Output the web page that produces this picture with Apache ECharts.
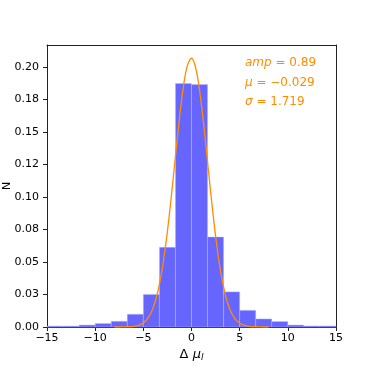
<!DOCTYPE html>
<html>
<head>
<meta charset="utf-8">
<script src="https://cdn.jsdelivr.net/npm/echarts@6/dist/echarts.min.js"></script>
<style>
html,body{margin:0;padding:0;background:#fff;}
#c{width:374px;height:374px;}
</style>
</head>
<body>
<div id="c"></div>
<script>
// Histogram bin edges (Δ μ_l) and normalized heights (N)
const binEdges = [-15, -13.333, -11.667, -10, -8.333, -6.667, -5, -3.333, -1.667, 0, 1.667, 3.333, 5, 6.667, 8.333, 10, 11.667, 13.333, 15];
const binHeights = [0.0007, 0.0007, 0.0015, 0.0027, 0.0044, 0.0098, 0.0250, 0.0613, 0.1872, 0.1865, 0.0692, 0.0270, 0.0128, 0.0062, 0.0042, 0.0015, 0.0008, 0.0008];

// Gaussian fit curve
const fitX = [-8, -7.5, -7, -6.5, -6, -5.5, -5, -4.5, -4, -3.5, -3, -2.5, -2, -1.5, -1, -0.5, 0, 0.5, 1, 1.5, 2, 2.5, 3, 3.5, 4, 4.5, 5, 5.5, 6, 6.5, 7, 7.5, 8];
const fitY = [0.0000, 0.00001, 0.00006, 0.00017, 0.0005, 0.00131, 0.00316, 0.00702, 0.01433, 0.0269, 0.0464, 0.0735, 0.1071, 0.1433, 0.1761, 0.1990, 0.2066, 0.1971, 0.1727, 0.1391, 0.1029, 0.0700, 0.0437, 0.0251, 0.0133, 0.0064, 0.0029, 0.0012, 0.0004, 0.00015, 0.00005, 0.00001, 0.0000];

// Tick values and labels
const xTickValues = [-15, -10, -5, 0, 5, 10, 15];
const yTickValues = [0, 0.025, 0.05, 0.075, 0.1, 0.125, 0.15, 0.175, 0.2];
const yTickLabels = ['0.00', '0.03', '0.05', '0.08', '0.10', '0.12', '0.15', '0.18', '0.20'];

// Axis titles and fit parameters text
const yAxisTitle = 'N';
const fitParams = { amp: '0.89', mu: '\u22120.029', sigma: '1.719' };

const FONT = 'DejaVu Sans';
const ORANGE = '#ff8c00';
const BAR = 'rgb(102,102,255)';

const histData = binHeights.map((h, i) => [binEdges[i], binEdges[i + 1], h]);
const fitData = fitX.map((x, i) => [x, fitY[i]]);

const chart = echarts.init(document.getElementById('c'), null, { renderer: 'canvas' });
const frame = { show: true, onZero: false, lineStyle: { color: '#222', width: 1 } };

chart.setOption({
  animation: false,
  backgroundColor: '#fff',
  grid: { left: 47, right: 38, top: 45, bottom: 47, containLabel: false, outerBoundsMode: 'none' },
  xAxis: [{
    type: 'value', min: -15, max: 15, interval: 5,
    axisLine: frame,
    axisTick: { show: true, length: 4, lineStyle: { color: '#222' }, customValues: xTickValues },
    axisLabel: { fontFamily: FONT, fontSize: 11, color: '#000', margin: 6,
      customValues: xTickValues,
      formatter: v => String(v).replace('-', '\u2212') },
    splitLine: { show: false },
    name: '{n|\u0394 }{i|\u03bc}{s|l}',
    nameLocation: 'middle', nameGap: 20, nameMoveOverlap: false,
    nameTextStyle: { fontFamily: FONT, fontSize: 13, color: '#000',
      rich: {
        n: { fontFamily: FONT, fontSize: 13, color: '#000' },
        i: { fontFamily: FONT, fontSize: 13, fontStyle: 'italic', color: '#000' },
        s: { fontFamily: FONT, fontSize: 9, fontStyle: 'italic', color: '#000', verticalAlign: 'bottom', padding: [6, 0, 0, 0] }
      } }
  }, {
    type: 'value', min: -15, max: 15, position: 'top',
    axisLine: frame, axisTick: { show: false }, axisLabel: { show: false }, splitLine: { show: false }
  }],
  yAxis: [{
    type: 'value', min: 0, max: 0.2168,
    axisLine: frame,
    axisTick: { show: true, length: 4, lineStyle: { color: '#222' }, customValues: yTickValues },
    axisLabel: { fontFamily: FONT, fontSize: 11, color: '#000', margin: 8,
      customValues: yTickValues,
      formatter: v => { const k = yTickValues.findIndex(t => Math.abs(t - v) < 1e-9); return k >= 0 ? yTickLabels[k] : ''; } },
    splitLine: { show: false }
  }, {
    type: 'value', min: 0, max: 0.2168, position: 'right',
    axisLine: frame, axisTick: { show: false }, axisLabel: { show: false }, splitLine: { show: false }
  }],
  series: [{
    type: 'custom',
    xAxisIndex: 0, yAxisIndex: 0,
    data: histData,
    encode: { x: [0, 1], y: 2 },
    renderItem: (params, api) => {
      const p0 = api.coord([api.value(0), api.value(2)]);
      const p1 = api.coord([api.value(1), 0]);
      return {
        type: 'rect',
        shape: { x: p0[0], y: p0[1], width: p1[0] - p0[0], height: p1[1] - p0[1] },
        style: { fill: BAR, stroke: 'rgba(190,190,255,0.8)', lineWidth: 0.5 }
      };
    },
    z: 2
  }, {
    type: 'line',
    xAxisIndex: 0, yAxisIndex: 0,
    data: fitData,
    smooth: 0.35,
    showSymbol: false,
    lineStyle: { color: ORANGE, width: 1.3 },
    z: 3
  }],
  graphic: [{
    type: 'text', x: 7, y: 186, rotation: Math.PI / 2,
    style: { text: yAxisTitle, fontFamily: FONT, fontSize: 11, fill: '#000', align: 'center', verticalAlign: 'middle' }
  }, {
    type: 'group', left: 245, top: 57,
    children: [
      { type: 'text', x: 0, y: 0, style: {
        text: '{i|amp}{n| = ' + fitParams.amp + '}',
        rich: { i: { fontFamily: FONT, fontSize: 12, fontStyle: 'italic', fill: ORANGE },
                n: { fontFamily: FONT, fontSize: 12, fill: ORANGE } } } },
      { type: 'text', x: 0, y: 19.5, style: {
        text: '{i|\u03bc}{n| = ' + fitParams.mu + '}',
        rich: { i: { fontFamily: FONT, fontSize: 12, fontStyle: 'italic', fill: ORANGE },
                n: { fontFamily: FONT, fontSize: 12, fill: ORANGE } } } },
      { type: 'text', x: 0, y: 39, style: {
        text: '{i|\u03c3}{n| = ' + fitParams.sigma + '}',
        rich: { i: { fontFamily: FONT, fontSize: 12, fontStyle: 'italic', fill: ORANGE },
                n: { fontFamily: FONT, fontSize: 12, fill: ORANGE } } } }
    ]
  }]
});
</script>
</body>
</html>
